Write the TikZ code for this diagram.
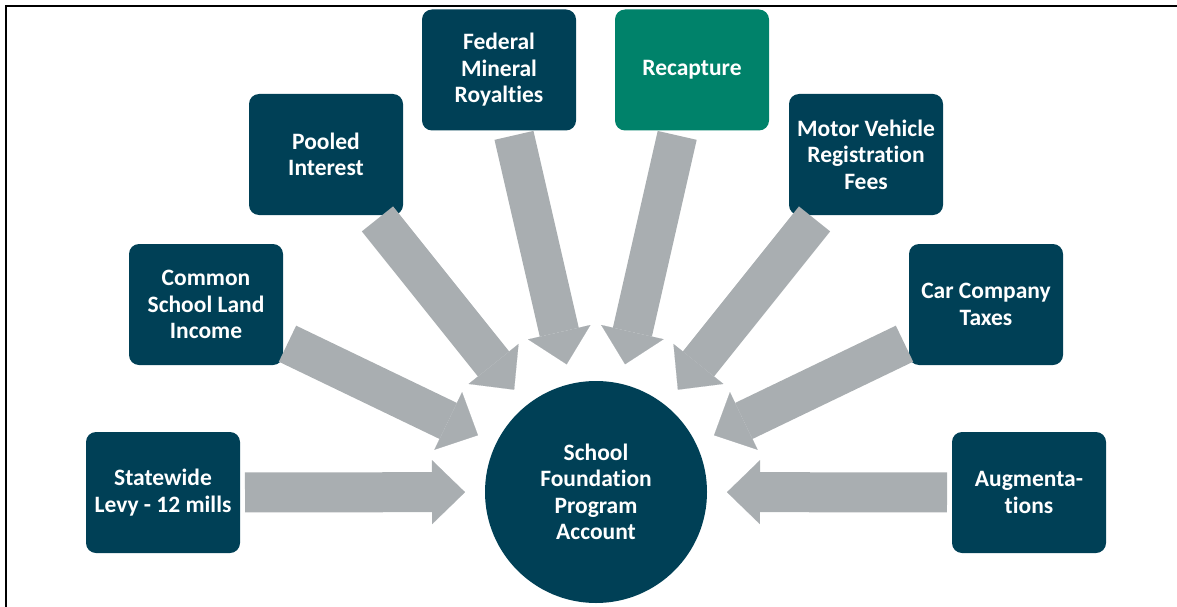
\documentclass[tikz,border=0pt]{standalone}
\usepackage{fontspec}
\setmainfont{Carlito}[Ligatures=NoCommon]
\usetikzlibrary{arrows.meta}

\definecolor{fundblue}{RGB}{0,64,86}
\definecolor{fundgreen}{RGB}{0,130,106}
\definecolor{flowgray}{RGB}{169,174,177}

\tikzset{
	labelfont/.style={font=\fontsize{23.5}{26.5}\selectfont\bfseries},
	source/.style={rectangle,rounded corners=10pt,fill=fundblue,text=white,
		minimum width=154pt,minimum height=121pt,inner sep=0pt,outer sep=0pt,
		align=center,labelfont},
	hub/.style={circle,fill=fundblue,text=white,minimum size=222pt,
		inner sep=0pt,outer sep=0pt,align=center,labelfont},
	flow/.style={draw=flowgray,line width=40pt,
		-{Triangle[width=64pt,length=33pt,line width=0.1pt]},
		shorten <=5pt,shorten >=20pt}
}

\begin{document}
\begin{tikzpicture}[x=1pt,y=-1pt]
	\useasboundingbox (0,0) rectangle (1177,607);
	% frame
	\draw[line width=2pt] (6,607) -- (6,6) -- (1177,6);

	\node[hub] (hub) at (596,492) {School\\Foundation\\Program\\Account};

	\node[source] (levy) at (163,492.5) {Statewide\\Levy - 12 mills};
	\node[source] (land) at (206,304.5) {Common\\School Land\\Income};
	\node[source] (pooled) at (326,154.5) {Pooled\\Interest};
	\node[source] (mineral) at (499,70) {Federal\\Mineral\\Royalties};
	\node[source,fill=fundgreen] (recap) at (692,70) {Recapture};
	\node[source] (motor) at (866,154.5) {Motor Vehicle\\Registration\\Fees};
	\node[source] (car) at (986,304.5) {Car Company\\Taxes};
	\node[source] (augment) at (1029,492.5) {Augmenta-\\tions};

	\foreach \from in {levy,land,pooled,mineral,recap,motor,car,augment}
	\draw[flow] (\from) -- (hub);
\end{tikzpicture}
\end{document}
